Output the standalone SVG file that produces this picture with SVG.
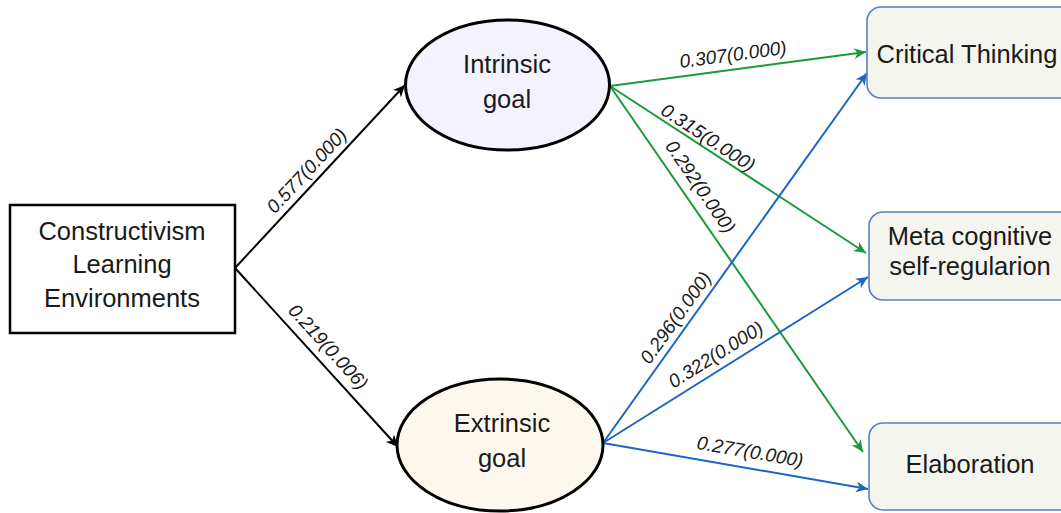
<svg xmlns="http://www.w3.org/2000/svg" width="1061" height="513" viewBox="0 0 1061 513">
<style>
.node text{font-family:"Liberation Sans",Arial,sans-serif;font-size:25.5px;fill:#1a1a1a;text-anchor:middle}
.lbl{font-family:"Liberation Sans",Arial,sans-serif;font-size:19px;font-style:italic;fill:#1a1a1a;text-anchor:middle}
.k{stroke:#000;stroke-width:2;fill:none}
.g{stroke:#1a9a3a;stroke-width:2;fill:none}
.b{stroke:#1a66c4;stroke-width:2;fill:none}
.rb{fill:#f4f5ee;stroke:#5b7fbf;stroke-width:1.6}
</style>
<defs>
<marker id="ak" markerUnits="userSpaceOnUse" markerWidth="14" markerHeight="12" refX="12" refY="6" orient="auto"><path d="M0,0.5 L12,6 L0,11.5 L3.5,6 z" fill="#000"/></marker>
<marker id="ag" markerUnits="userSpaceOnUse" markerWidth="14" markerHeight="12" refX="12" refY="6" orient="auto"><path d="M0,0.5 L12,6 L0,11.5 L3.5,6 z" fill="#1a9a3a"/></marker>
<marker id="ab" markerUnits="userSpaceOnUse" markerWidth="14" markerHeight="12" refX="12" refY="6" orient="auto"><path d="M0,0.5 L12,6 L0,11.5 L3.5,6 z" fill="#1a66c4"/></marker>
</defs>
<rect width="1061" height="513" fill="#fff"/>
<g id="connectors">
<line class="k" x1="235" y1="268" x2="405" y2="85" marker-end="url(#ak)"/>
<line class="k" x1="235" y1="268" x2="398" y2="447" marker-end="url(#ak)"/>
<line class="g" x1="610" y1="86" x2="866" y2="52" marker-end="url(#ag)"/>
<line class="g" x1="610" y1="86" x2="866" y2="253" marker-end="url(#ag)"/>
<line class="g" x1="610" y1="86" x2="863" y2="452" marker-end="url(#ag)"/>
<line class="b" x1="603" y1="443" x2="867" y2="73" marker-end="url(#ab)"/>
<line class="b" x1="603" y1="443" x2="868" y2="277" marker-end="url(#ab)"/>
<line class="b" x1="603" y1="443" x2="868" y2="489" marker-end="url(#ab)"/>
<text class="lbl" transform="translate(307,171) rotate(-47.1)" dy="6">0.577(0.000)</text>
<text class="lbl" transform="translate(328,347) rotate(47.7)" dy="6">0.219(0.006)</text>
<text class="lbl" transform="translate(733,55) rotate(-7.6)" dy="6">0.307(0.000)</text>
<text class="lbl" transform="translate(708,138) rotate(33.1)" dy="6">0.315(0.000)</text>
<text class="lbl" transform="translate(700,187) rotate(55.3)" dy="6">0.292(0.000)</text>
<text class="lbl" transform="translate(676,318) rotate(-54.5)" dy="6">0.296(0.000)</text>
<text class="lbl" transform="translate(716,355) rotate(-32.1)" dy="6">0.322(0.000)</text>
<text class="lbl" transform="translate(750,452) rotate(9.8)" dy="6">0.277(0.000)</text>
</g>
<g id="cle" class="node">
<rect x="10" y="205" width="225" height="128" fill="#fff" stroke="#000" stroke-width="2.5"/>
<text x="122" y="240">Constructivism</text>
<text x="122" y="273">Learning</text>
<text x="122" y="307">Environments</text>
</g>
<g id="intrinsic" class="node">
<ellipse cx="507.5" cy="85" rx="102" ry="65" fill="#f3f2fd" stroke="#000" stroke-width="3"/>
<text x="507" y="73">Intrinsic</text>
<text x="507" y="108">goal</text>
</g>
<g id="extrinsic" class="node">
<ellipse cx="500" cy="445" rx="103" ry="66" fill="#fdf8ee" stroke="#000" stroke-width="3"/>
<text x="502" y="432">Extrinsic</text>
<text x="502" y="467">goal</text>
</g>
<g id="critical" class="node">
<rect class="rb" x="867" y="7" width="210" height="91" rx="14"/>
<text x="967" y="63">Critical Thinking</text>
</g>
<g id="meta" class="node">
<rect class="rb" x="869" y="212" width="210" height="88" rx="14"/>
<text x="970" y="245">Meta cognitive</text>
<text x="970" y="275">self-regularion</text>
</g>
<g id="elaboration" class="node">
<rect class="rb" x="869" y="423" width="210" height="87" rx="14"/>
<text x="970" y="473">Elaboration</text>
</g>
</svg>
